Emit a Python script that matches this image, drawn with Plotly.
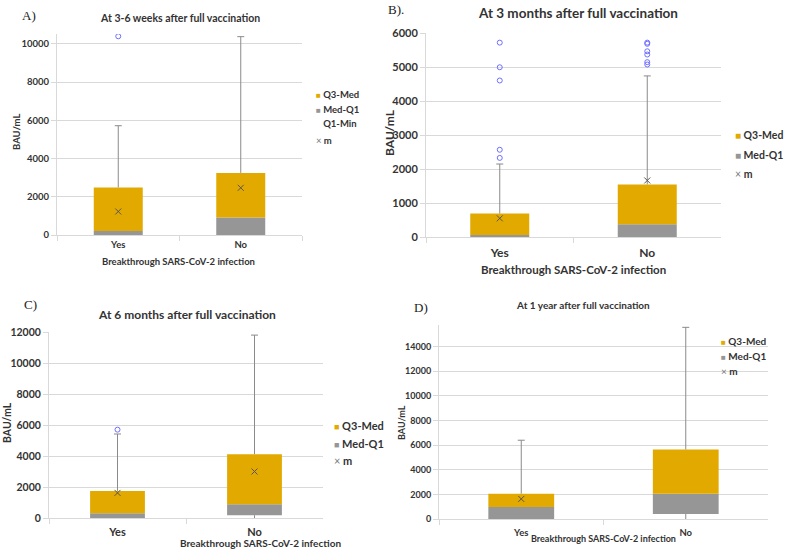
import plotly.graph_objects as go

# === Antibody levels (BAU/mL) by breakthrough infection ===
cats = ["Yes", "No"]

# A) 3-6 weeks
a_min = [0, 0]
a_q1 = [0, 0]
a_med = [210, 920]
a_q3 = [2490, 3250]
a_max = [5720, 10380]
a_mean = [1230, 2470]
a_out_x = ["Yes"]
a_out_y = [10400]

# B) 3 months
b_min = [0, 0]
b_q1 = [0, 0]
b_med = [60, 375]
b_q3 = [690, 1550]
b_max = [2150, 4745]
b_mean = [550, 1665]
b_out_x = ["Yes", "Yes", "Yes", "Yes", "Yes", "No", "No", "No", "No", "No", "No"]
b_out_y = [5725, 5000, 4610, 2570, 2330, 5725, 5690, 5470, 5375, 5150, 5080]

# C) 6 months
c_min = [0, 0]
c_q1 = [0, 180]
c_med = [300, 890]
c_q3 = [1750, 4120]
c_max = [5420, 11800]
c_mean = [1620, 3000]
c_out_x = ["Yes"]
c_out_y = [5700]

# D) 1 year
d_min = [0, 0]
d_q1 = [0, 405]
d_med = [980, 2055]
d_q3 = [2055, 5650]
d_max = [6400, 15570]
d_mean = [1630, None]
d_out_x = []
d_out_y = []

GOLD = "#E2AA00"
GRAY = "#969696"
WHISK = "#8A8A8A"
OUTL = "#6F6FFF"
GRID = "#D9D9D9"
TXT = "#333333"
FONT = "Lato"
SERIF = "Liberation Serif"

W, H = 786, 549


def px(x):
    return x / W


def py(y):
    return 1 - y / H


fig = go.Figure()


def add_panel(n, q1, med, q3, lo, hi, mean, out_x, out_y):
    ax = dict(xaxis="x" if n == 1 else f"x{n}", yaxis="y" if n == 1 else f"y{n}")
    # Med-Q1 (gray) and Q3-Med (gold) boxes
    fig.add_trace(go.Bar(x=cats, y=[m - a for m, a in zip(med, q1)], base=q1, width=0.4,
                         marker=dict(color=GRAY, line_width=0), showlegend=False, **ax))
    fig.add_trace(go.Bar(x=cats, y=[b - m for b, m in zip(q3, med)], base=med, width=0.4,
                         marker=dict(color=GOLD, line_width=0), showlegend=False, **ax))
    # whiskers
    xs, ys = [], []
    for c, a, b, l, h in zip(cats, q1, q3, lo, hi):
        xs += [c, c, None]
        ys += [b, h, None]
        if a > l:
            xs += [c, c, None]
            ys += [l, a, None]
    fig.add_trace(go.Scatter(x=xs, y=ys, mode="lines", line=dict(color=WHISK, width=1),
                             hoverinfo="skip", showlegend=False, **ax))
    fig.add_trace(go.Scatter(x=cats, y=hi, mode="markers",
                             marker=dict(symbol="line-ew", size=5, line=dict(color=WHISK, width=1)),
                             hoverinfo="skip", showlegend=False, **ax))
    # mean
    fig.add_trace(go.Scatter(x=cats, y=mean, mode="markers", name="m",
                             marker=dict(symbol="x-thin", size=6, line=dict(color="#5A5550", width=1)),
                             showlegend=False, **ax))
    # outliers
    if out_x:
        fig.add_trace(go.Scatter(x=out_x, y=out_y, mode="markers",
                                 marker=dict(symbol="circle-open", size=5, color=OUTL, line_width=1),
                                 showlegend=False, **ax))


add_panel(1, a_q1, a_med, a_q3, a_min, a_max, a_mean, a_out_x, a_out_y)
add_panel(2, b_q1, b_med, b_q3, b_min, b_max, b_mean, b_out_x, b_out_y)
add_panel(3, c_q1, c_med, c_q3, c_min, c_max, c_mean, c_out_x, c_out_y)
add_panel(4, d_q1, d_med, d_q3, d_min, d_max, d_mean, d_out_x, d_out_y)


def xax(x0, x1, anchor, size, standoff):
    return dict(domain=[px(x0), px(x1)], anchor=anchor, type="category", range=[-0.5, 1.5],
                showline=True, linecolor=GRID, ticks="outside", tickson="boundaries", ticklen=5,
                tickcolor=GRID, showgrid=False, fixedrange=True, automargin=False,
                ticklabelstandoff=standoff,
                tickfont=dict(family=FONT, size=size, color=TXT, weight="bold"))


def yax(y_top, y_bot, anchor, top, dtick, size):
    return dict(domain=[py(y_bot), py(y_top)], anchor=anchor, range=[0, top], dtick=dtick,
                tickformat="d", showline=True, linecolor=GRID, showgrid=True, gridcolor=GRID,
                zeroline=False, ticks="outside", ticklen=5, tickcolor=GRID, fixedrange=True,
                automargin=False,
                tickfont=dict(family=FONT, size=size, color=TXT, weight="bold"))


annotations = []


def ann(text, x, y, size, family=FONT, bold=True, **kw):
    d = dict(text=text, xref="paper", yref="paper", x=px(x), y=py(y), showarrow=False,
             xanchor="center", yanchor="middle",
             font=dict(family=family, size=size, color=TXT if family == FONT else "#222222",
                       weight="bold" if bold else "normal"))
    d.update(kw)
    annotations.append(d)


def legend(x, ys, size, sq, with_min=False):
    items = [f"<span style='color:{GOLD};font-size:{sq}px'>■</span> Q3-Med",
             f"<span style='color:{GRAY};font-size:{sq}px'>■</span> Med-Q1"]
    if with_min:
        items.append(f"<span style='color:rgba(0,0,0,0);font-size:{sq}px'>■</span> Q1-Min")
    items.append(f"<span style='color:#777777;font-weight:normal'>×</span> m")
    for t, y in zip(items, ys):
        ann(t, x, y, size, xanchor="left")


# A
ann("A)", 29, 15, 13, family=SERIF, bold=False)
ann("At 3-6 weeks after full vaccination", 180, 18, 10.5)
ann("BAU/mL", 16, 132, 9.5, textangle=-90)
ann("Breakthrough SARS-CoV-2 infection", 178, 261, 9.5)
legend(314, [94, 109, 124, 140], 9.5, 8, with_min=True)

# B
ann("B).", 396, 10, 13, family=SERIF, bold=False)
ann("At 3 months after full vaccination", 578, 13, 13.5)
ann("BAU/mL", 390, 133, 12, textangle=-90)
ann("Breakthrough SARS-CoV-2 infection", 573, 269, 11.5)
legend(733, [135, 155, 174], 10.5, 10)

# C
ann("C)", 30, 304, 13, family=SERIF, bold=False)
ann("At 6 months after full vaccination", 187, 314, 12)
ann("BAU/mL", 7, 423, 10.5, textangle=-90)
ann("Breakthrough SARS-CoV-2 infection", 260, 543, 10)
legend(332, [425, 443, 460], 11, 9)

# D
ann("D)", 421, 307, 13, family=SERIF, bold=False)
ann("At 1 year after full vaccination", 583, 305, 10)
ann("BAU/mL", 401, 423, 9, textangle=-90)
ann("Breakthrough SARS-CoV-2 infection", 603, 538, 9)
legend(719, [341, 356, 371], 10, 8)

fig.update_layout(
    width=W, height=H,
    margin=dict(l=0, r=0, t=0, b=0, autoexpand=False),
    paper_bgcolor="white", plot_bgcolor="white",
    barmode="overlay",
    showlegend=False,
    xaxis=xax(57, 302, "y", 9.5, 1),
    yaxis=yax(34, 235, "x", 10520, 2000, 9.5),
    xaxis2=xax(426, 721, "y2", 12, 5),
    yaxis2=yax(33.3, 237, "x2", 6000, 1000, 11),
    xaxis3=xax(49, 323, "y3", 11, 4),
    yaxis3=yax(332, 518, "x3", 12000, 2000, 10.5),
    xaxis4=xax(439, 768, "y4", 9.5, 5),
    yaxis4=yax(325, 519, "x4", 15760, 2000, 9),
    annotations=annotations,
)

# page body has a default margin; drop it so the figure sits at the window's corner
fig.write_html("out.html", config={"displayModeBar": False},
               post_script="document.body.style.margin='0';document.body.style.overflow='hidden';")
